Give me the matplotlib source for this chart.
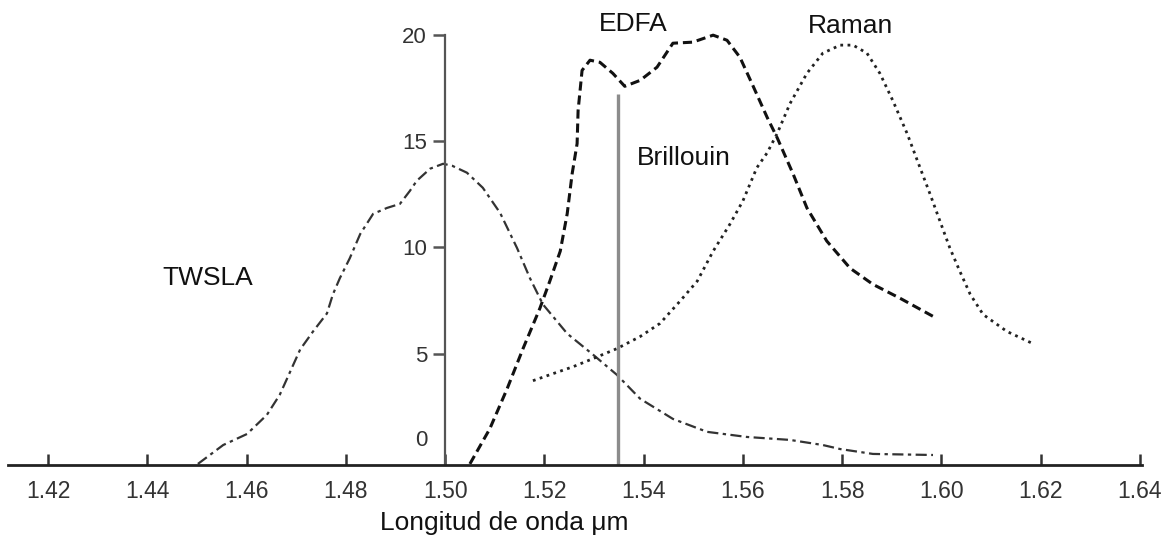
import matplotlib
matplotlib.use('Agg')
import matplotlib.pyplot as plt
from matplotlib import font_manager

# wavelength (um) / gain values
twsla_x = [1.4502, 1.4553, 1.4601, 1.4641, 1.4667, 1.4688, 1.4708, 1.4734, 1.4762, 1.4774,
           1.4788, 1.4808, 1.4829, 1.4855, 1.4883, 1.4909, 1.4929, 1.4943, 1.4970, 1.4996,
           1.5014, 1.5044, 1.5076, 1.5111, 1.5145, 1.5171, 1.5197, 1.5246, 1.5298, 1.5346,
           1.5393, 1.5459, 1.5528, 1.5608, 1.5695, 1.5761, 1.5796, 1.5862, 1.5983]
twsla_y = [-0.2, 0.69, 1.21, 2.11, 3.06, 4.15, 5.19, 6.04, 6.89, 7.79,
           8.55, 9.49, 10.63, 11.58, 11.86, 12.05, 12.66, 13.14, 13.71, 13.94,
           13.85, 13.52, 12.81, 11.62, 9.97, 8.55, 7.32, 5.94, 4.95, 4.0,
           2.87, 1.92, 1.31, 1.07, 0.93, 0.69, 0.50, 0.27, 0.22]

edfa_x = [1.5050, 1.5090, 1.5125, 1.5157, 1.5191, 1.5211, 1.5232, 1.5246, 1.5256, 1.5266,
          1.5268, 1.5276, 1.5292, 1.5312, 1.5338, 1.5362, 1.5393, 1.5427, 1.5459, 1.5499,
          1.5540, 1.5568, 1.5594, 1.5620, 1.5649, 1.5669, 1.5701, 1.5729, 1.5769, 1.5816,
          1.5862, 1.5917, 1.5991]
edfa_y = [-0.2, 1.45, 3.34, 5.23, 7.13, 8.41, 9.82, 11.58, 13.47, 14.89,
          16.45, 18.34, 18.82, 18.72, 18.20, 17.59, 17.87, 18.49, 19.62, 19.67,
          20.0, 19.76, 18.96, 17.63, 16.12, 15.17, 13.47, 11.86, 10.30, 9.02,
          8.26, 7.60, 6.65]

raman_x = [1.5177, 1.5211, 1.5258, 1.5298, 1.5346, 1.5393, 1.5433, 1.5473, 1.5508, 1.5540,
           1.5574, 1.5600, 1.5628, 1.5649, 1.5669, 1.5695, 1.5729, 1.5761, 1.5796, 1.5822,
           1.5850, 1.5876, 1.5902, 1.5931, 1.5957, 1.5977, 1.5997, 1.6017, 1.6037, 1.6058,
           1.6084, 1.6132, 1.6184]
raman_y = [3.72, 4.0, 4.38, 4.76, 5.23, 5.80, 6.42, 7.46, 8.41, 9.82,
           11.10, 12.19, 13.75, 14.46, 15.36, 16.78, 18.20, 19.15, 19.53, 19.53,
           19.15, 18.20, 16.92, 15.36, 13.75, 12.52, 11.24, 9.97, 8.88, 7.79,
           6.84, 6.04, 5.47]

brillouin_x = 1.5348
brillouin_top = 17.25

x_ticks = [1.42, 1.44, 1.46, 1.48, 1.50, 1.52, 1.54, 1.56, 1.58, 1.60, 1.62, 1.64]
x_labels = ['1.42', '1.44', '1.46', '1.48', '1.50', '1.52', '1.54', '1.56', '1.58', '1.60', '1.62', '1.64']
y_ticks = [1.0, 5, 10, 15, 20]   # the "0" label sits a bit above the axis in the original
y_labels = ['0', '5', '10', '15', '20']

names = {f.name for f in font_manager.fontManager.ttflist}
if 'Liberation Sans Narrow' in names:
    tick_font, tick_size = 'Liberation Sans Narrow', 18
else:
    tick_font, tick_size = 'Liberation Sans', 16.5
txt_font = 'Liberation Sans'

fig = plt.figure(figsize=(11.63, 5.46), dpi=100)
ax = fig.add_axes([0, 0.1484, 1, 0.8516])
ax.set_xlim(1.41033, 1.64464)
ax.set_ylim(-0.25, 21.656)

ax.plot(twsla_x, twsla_y, color='#333333', lw=1.6, ls=(0, (5, 2, 1.5, 2)))
ax.plot(edfa_x, edfa_y, color='#111111', lw=2.2, ls=(0, (3, 1.6)))
ax.plot(raman_x, raman_y, color='#222222', lw=2.0, ls=(0, (1, 1.6)))
ax.vlines(brillouin_x, -0.25, brillouin_top, color='#8c8c8c', lw=2.4)

for s in ['top', 'right']:
    ax.spines[s].set_visible(False)
ax.spines['left'].set_position(('data', 1.50))
ax.spines['left'].set_bounds(-0.25, 20)
ax.spines['left'].set_color('#555555')
ax.spines['left'].set_linewidth(1.6)
ax.spines['bottom'].set_bounds(1.4119, 1.6405)
ax.spines['bottom'].set_color('#222222')
ax.spines['bottom'].set_linewidth(2.0)

ax.set_xticks(x_ticks)
ax.set_xticklabels(x_labels, fontfamily=tick_font, fontsize=tick_size, color='#333333')
ax.tick_params(axis='x', direction='in', length=8, width=1.8, color='#333333', pad=11)
ax.set_yticks(y_ticks)
ax.set_yticklabels(y_labels, fontfamily=tick_font, fontsize=tick_size - 0.5, color='#333333')
ax.tick_params(axis='y', direction='out', length=9, width=1.8, color='#555555', pad=4)
ax.yaxis.get_major_ticks()[0].tick1line.set_visible(False)

ax.text(1.5379, 20.52, 'EDFA', fontfamily=txt_font, fontsize=19, ha='center', va='center', color='#111111')
ax.text(1.5816, 20.45, 'Raman', fontfamily=txt_font, fontsize=19, ha='center', va='center', color='#111111')
ax.text(1.5387, 14.2, 'Brillouin', fontfamily=txt_font, fontsize=19, ha='left', va='center', color='#111111')
ax.text(1.4521, 8.55, 'TWSLA', fontfamily=txt_font, fontsize=19, ha='center', va='center', color='#111111')

fig.text(504 / 1163, 1 - 523 / 546, 'Longitud de onda μm', fontfamily=txt_font, fontsize=19,
         ha='center', va='center', color='#111111')

fig.savefig('out.png', dpi=100)
